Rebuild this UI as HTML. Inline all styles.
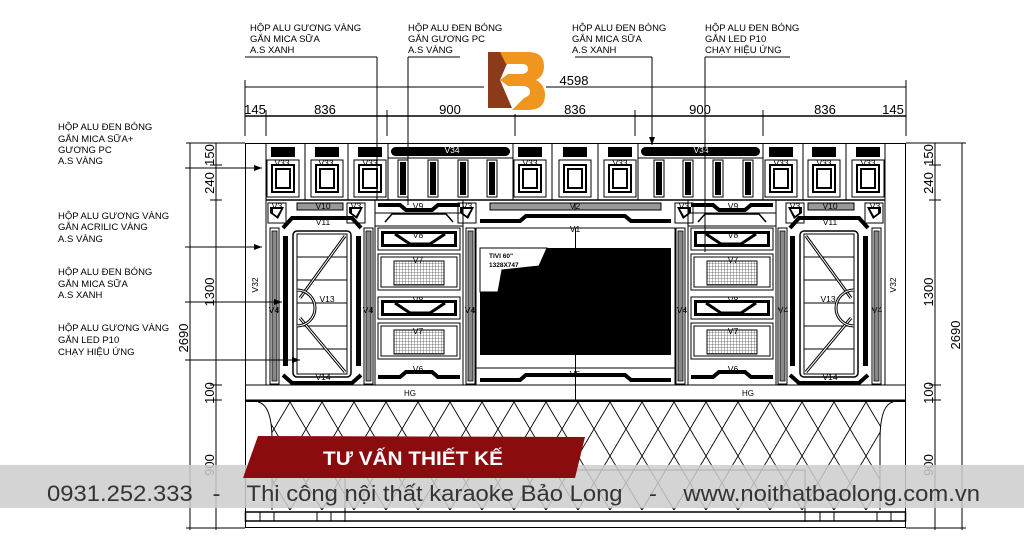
<!DOCTYPE html>
<html><head><meta charset="utf-8"><style>
html,body{margin:0;padding:0;background:#fff}
svg{display:block}
text{font-family:"Liberation Sans",sans-serif}
</style></head><body>
<svg width="1024" height="543" viewBox="0 0 1024 543" xmlns="http://www.w3.org/2000/svg">
<defs>
<pattern id="grid" width="3" height="3" patternUnits="userSpaceOnUse"><rect width="3" height="3" fill="#fff"/><path d="M0 0H3M0 0V3" stroke="#555" stroke-width="0.8"/></pattern>
<pattern id="dia" width="32" height="54" patternUnits="userSpaceOnUse" x="258" y="402"><path d="M0 0L32 54M32 0L0 54" stroke="#000" stroke-width="0.9" fill="none"/></pattern>
<g id="v33">
<rect x="-12" y="147" width="24" height="10" fill="#000"/>
<rect x="-16" y="160" width="32" height="37" fill="none" stroke="#000" stroke-width="1"/>
<rect x="-11" y="165" width="22" height="27" fill="none" stroke="#000" stroke-width="2"/>
<rect x="-7" y="169" width="14" height="19" fill="none" stroke="#000" stroke-width="2"/>
</g>
<g id="v35"><rect x="-5" y="160" width="10" height="37" fill="#fff" stroke="#000"/><rect x="-3" y="162" width="6" height="33" fill="#000"/></g>
<g id="pil"><rect x="0" y="228" width="9" height="156" fill="#fff" stroke="#000"/><rect x="2" y="231" width="5" height="150" fill="#888" stroke="#000" stroke-width="0.8"/></g>
<g id="v3"><rect x="-9" y="203" width="18" height="20" fill="none" stroke="#000"/><polygon points="-7,207 7,207 1,219 -7,213" fill="#000"/><polygon points="-4,209 4,209 0,216 -4,213" fill="#fff"/></g>
<g id="v8"><rect x="378" y="0" width="82" height="22" fill="none" stroke="#000"/><rect x="381" y="3" width="76" height="16" fill="#000"/><rect x="384" y="6" width="70" height="10" fill="#fff"/><polyline points="395,6 410,16 430,16 445,6" fill="none" stroke="#000" stroke-width="3"/></g>
<g id="v7"><rect x="378" y="0" width="82" height="36" fill="none" stroke="#000"/><rect x="381" y="3" width="76" height="30" fill="none" stroke="#000"/><rect x="394" y="7" width="50" height="24" fill="url(#grid)" stroke="#000"/></g>
<g id="half">
<line x1="266" y1="143" x2="266" y2="385" stroke="#000"/>
<use href="#v33" x="283"/><use href="#v33" x="327"/><use href="#v33" x="370"/>
<line x1="305" y1="143" x2="305" y2="200" stroke="#000"/><line x1="348" y1="143" x2="348" y2="200" stroke="#000"/><line x1="388" y1="143" x2="388" y2="200" stroke="#000"/><line x1="513" y1="143" x2="513" y2="200" stroke="#000"/>
<rect x="391" y="147" width="119" height="9" rx="4.5" fill="#000"/>
<line x1="388" y1="158" x2="513" y2="158" stroke="#000"/>
<use href="#v35" x="403"/><use href="#v35" x="433"/><use href="#v35" x="463"/><use href="#v35" x="492"/>
<line x1="266" y1="200" x2="575.5" y2="200" stroke="#000" stroke-width="1.5"/>
<use href="#v3" x="277"/><use href="#v3" x="356"/><use href="#v3" x="467"/>
<rect x="297" y="203" width="46" height="7" fill="#999" stroke="#000"/>
<rect x="490" y="203" width="86" height="7" fill="#999" stroke="#000"/>
<polyline points="378,205 400,205 406,210 432,210 438,205 460,205" fill="none" stroke="#000" stroke-width="4"/>
<line x1="375" y1="213" x2="463" y2="213" stroke="#000"/><line x1="375" y1="226" x2="463" y2="226" stroke="#000"/>
<line x1="375" y1="200" x2="375" y2="385" stroke="#000"/><line x1="463" y1="200" x2="463" y2="385" stroke="#000"/>
<use href="#pil" x="270"/><use href="#pil" x="364"/><use href="#pil" x="466"/>
<polyline points="283,228 292,218 352,218 361,228" fill="none" stroke="#000" stroke-width="4"/>
<polyline points="283,375 292,383 352,383 361,375" fill="none" stroke="#000" stroke-width="4"/>
<rect x="283" y="236" width="5" height="130" fill="#000"/><rect x="356" y="236" width="5" height="130" fill="#000"/>
<rect x="293" y="231" width="58" height="146" rx="4" fill="none" stroke="#000" stroke-width="1.5"/>
<rect x="297" y="234" width="50" height="140" fill="none" stroke="#000"/>
<path d="M297 257H347M297 280H347M297 303H347M297 326H347M297 349H347" stroke="#000"/>
<path d="M300 298L345 236M300 318L345 372" stroke="#000" stroke-width="3"/><path d="M300 298L345 236M300 318L345 372" stroke="#fff" stroke-width="1"/>
<path d="M297 290A18 18 0 0 1 297 326" fill="none" stroke="#000" stroke-width="3"/><path d="M297 290A18 18 0 0 1 297 326" fill="none" stroke="#fff" stroke-width="1"/>
<polyline points="385,222 392,214 446,214 453,222" fill="none" stroke="#000" stroke-width="1.5"/>
<use href="#v8" y="228"/><use href="#v7" y="254"/><use href="#v8" y="297"/><use href="#v7" y="323"/>
<polyline points="378,377 400,377 406,372 432,372 438,377 460,377" fill="none" stroke="#000" stroke-width="4"/>
<polyline points="480,221 520,221 526,216 575.5,216" fill="none" stroke="#000" stroke-width="4"/>
<polyline points="480,380 520,380 526,375 575.5,375" fill="none" stroke="#000" stroke-width="4"/>
<line x1="476" y1="228" x2="575.5" y2="228" stroke="#000"/>
<line x1="476" y1="368" x2="575.5" y2="368" stroke="#000"/>
<line x1="476" y1="228" x2="476" y2="385" stroke="#000"/>
</g>
</defs>

<rect x="245.5" y="143.5" width="660" height="384" fill="#fff" stroke="#000"/>
<use href="#half"/>
<use href="#half" transform="translate(1151,0) scale(-1,1)"/>
<use href="#v33" x="530"/><use href="#v33" x="575"/><use href="#v33" x="620"/>
<line x1="552" y1="143" x2="552" y2="200" stroke="#000"/><line x1="598" y1="143" x2="598" y2="200" stroke="#000"/>
<rect x="480" y="248" width="191" height="107" fill="#000"/>
<polygon points="480,248 547,248 539,266 502,270 498,292 480,292" fill="#fff" stroke="#000"/>
<text x="489" y="258" font-size="6.5" font-weight="bold">TIVI 60"</text>
<text x="489" y="267" font-size="6.5" font-weight="bold">1328X747</text>
<line x1="575.5" y1="228" x2="575.5" y2="248" stroke="#000"/><line x1="575.5" y1="355" x2="575.5" y2="385" stroke="#000"/>
<g font-size="8.5" fill="#000" text-anchor="middle">
<text x="282" y="166">V33</text><text x="326" y="166">V33</text><text x="370" y="166">V33</text><text x="530" y="166">V33</text><text x="620" y="166">V33</text><text x="781" y="166">V33</text><text x="824" y="166">V33</text><text x="868" y="166">V33</text>
<text x="452" y="153" fill="#fff">V34</text><text x="701" y="153" fill="#fff">V34</text>
<text x="277" y="209">V3</text><text x="356" y="209">V3</text><text x="467" y="209">V3</text><text x="684" y="209">V3</text><text x="795" y="209">V3</text><text x="875" y="209">V3</text>
<text x="323" y="209">V10</text><text x="830" y="209">V10</text><text x="418" y="209">V9</text><text x="733" y="209">V9</text><text x="575" y="209">V2</text>
<text x="323" y="225">V11</text><text x="830" y="225">V11</text><text x="575" y="232">V1</text>
<text x="418" y="238">V8</text><text x="733" y="238">V8</text><text x="418" y="263">V7</text><text x="733" y="263">V7</text>
<text x="418" y="303">V8</text><text x="733" y="303">V8</text><text x="418" y="334">V7</text><text x="733" y="334">V7</text>
<text x="418" y="372">V6</text><text x="733" y="372">V6</text><text x="575" y="377">V5</text>
<text x="323" y="380">V14</text><text x="830" y="380">V14</text>
<text x="327" y="302">V13</text><text x="828" y="302">V13</text>
<text x="274" y="313">V4</text><text x="368" y="313">V4</text><text x="470" y="313">V4</text><text x="682" y="313">V4</text><text x="783" y="313">V4</text><text x="877" y="313">V4</text>
<text transform="translate(258,285) rotate(-90)">V32</text><text transform="translate(896,285) rotate(-90)">V32</text>
</g>
<rect x="245.5" y="385" width="660" height="15" fill="#fff" stroke="#000"/>
<line x1="575.5" y1="385" x2="575.5" y2="400" stroke="#000"/>
<text x="410" y="396" font-size="8" text-anchor="middle">HG</text><text x="748" y="396" font-size="8" text-anchor="middle">HG</text>
<line x1="245" y1="401" x2="906" y2="401" stroke="#000" stroke-width="2"/>
<path d="M258 402Q272 405 272 440V510H880V440Q880 405 893 402Z" fill="url(#dia)"/>
<path d="M258 402Q272 405 272 440V510M893 402Q880 405 880 440V510" fill="none" stroke="#000"/>
<line x1="345" y1="470" x2="345" y2="522" stroke="#000"/><line x1="805" y1="470" x2="805" y2="522" stroke="#000"/>
<line x1="345" y1="470" x2="805" y2="470" stroke="#000"/>
<rect x="245.5" y="512" width="660" height="9" fill="none" stroke="#000" stroke-width="1.5"/>
<rect x="260" y="512" width="14" height="9" fill="none" stroke="#000"/><rect x="317" y="512" width="14" height="9" fill="none" stroke="#000"/>
<rect x="820" y="512" width="14" height="9" fill="none" stroke="#000"/><rect x="877" y="512" width="14" height="9" fill="none" stroke="#000"/>
<g stroke="#000" fill="none">
<line x1="245" y1="87" x2="906" y2="87"/>
<line x1="245" y1="116" x2="906" y2="116" stroke-width="1.5"/>
<path d="M245 80V136M266 110V136M387 110V136M515 110V136M635 110V136M763 110V136M906 80V136"/>
<path d="M377 57H245M377 57V200M408 57H460M408 57V205M652 57H575M652 57V145M705 57H790M705 57V252"/>
</g>
<g font-size="13" text-anchor="middle"><text x="255" y="114">145</text><text x="325" y="114">836</text><text x="450" y="114">900</text><text x="575" y="114">836</text><text x="700" y="114">900</text><text x="825" y="114">836</text><text x="893" y="114">145</text><text x="574" y="85">4598</text></g>
<g font-size="9.5">
<text x="250" y="31">HỘP ALU GƯƠNG VÀNG</text><text x="250" y="42">GẮN MICA SỮA</text><text x="250" y="53">A.S XANH</text>
<text x="408" y="31">HỘP ALU ĐEN BÓNG</text><text x="408" y="42">GẮN GƯƠNG PC</text><text x="408" y="53">A.S VÀNG</text>
<text x="572" y="31">HỘP ALU ĐEN BÓNG</text><text x="572" y="42">GẮN MICA SỮA</text><text x="572" y="53">A.S XANH</text>
<text x="705" y="31">HỘP ALU ĐEN BÓNG</text><text x="705" y="42">GẮN LED P10</text><text x="705" y="53">CHẠY HIỆU ỨNG</text>
<text x="58" y="130">HỘP ALU ĐEN BÓNG</text><text x="58" y="142">GẮN MICA SỮA+</text><text x="58" y="153">GƯƠNG PC</text><text x="58" y="164">A.S VÀNG</text>
<text x="58" y="219">HỘP ALU GƯƠNG VÀNG</text><text x="58" y="230">GẮN ACRILIC VÀNG</text><text x="58" y="242">A.S VÀNG</text>
<text x="58" y="275">HỘP ALU ĐEN BÓNG</text><text x="58" y="287">GẮN MICA SỮA</text><text x="58" y="298">A.S XANH</text>
<text x="58" y="331">HỘP ALU GƯƠNG VÀNG</text><text x="58" y="343">GẮN LED P10</text><text x="58" y="355">CHẠY HIỆU ỨNG</text>
</g>
<g stroke="#000" fill="none">
<path d="M185 168H262M185 247H262M185 302H282M185 360H300"/>
</g>
<g fill="#000"><polygon points="262,168 254,165 254,171"/><polygon points="262,247 254,244 254,250"/><polygon points="282,302 274,299 274,305"/><polygon points="300,360 292,357 292,363"/><polygon points="652,145 649,137 655,137"/></g>
<g stroke="#000" fill="none">
<line x1="216" y1="143" x2="216" y2="530"/><line x1="190" y1="143" x2="190" y2="530"/>
<line x1="935" y1="143" x2="935" y2="530"/><line x1="962" y1="143" x2="962" y2="530"/>
<path d="M186 143H245M210 165H222M210 200H222M210 385H222M210 400H222M186 528H245"/>
<path d="M906 143H966M929 165H941M929 200H941M929 385H941M929 400H941M906 528H966"/>
</g>
<g font-size="13" text-anchor="middle">
<text transform="translate(214,155) rotate(-90)">150</text><text transform="translate(214,183) rotate(-90)">240</text><text transform="translate(214,292) rotate(-90)">1300</text><text transform="translate(214,393) rotate(-90)">100</text><text transform="translate(214,465) rotate(-90)">900</text><text transform="translate(188,338) rotate(-90)">2690</text>
<text transform="translate(933,155) rotate(-90)">150</text><text transform="translate(933,183) rotate(-90)">240</text><text transform="translate(933,292) rotate(-90)">1300</text><text transform="translate(933,393) rotate(-90)">100</text><text transform="translate(933,465) rotate(-90)">900</text><text transform="translate(960,335) rotate(-90)">2690</text>
</g>
<rect x="484" y="48" width="62" height="66" fill="#fff"/>
<polygon points="488,52 512,52 500,80 512,108 488,108" fill="#8b3a1a"/>
<path d="M500 52H528Q544 52 544 66Q544 76 536 80Q545 85 545 95Q545 110 528 110H512L524 98Q530 96 530 92Q530 87 524 86H508L500 80L508 74H522Q528 73 528 69Q528 64 522 64H506Z" fill="#f0961e"/>
<rect x="0" y="465" width="1024" height="43" fill="rgba(205,205,205,0.85)"/>
<polygon points="258,436 585,437 575,478 243,478" fill="#8a0c0e"/>
<text x="413" y="465" font-size="19" font-weight="bold" fill="#fff" text-anchor="middle" textLength="180" lengthAdjust="spacingAndGlyphs">TƯ VẤN THIẾT KẾ</text>
<text x="47" y="501" font-size="22" fill="#333" textLength="933" lengthAdjust="spacingAndGlyphs" xml:space="preserve">0931.252.333   -    Thi công nội thất karaoke Bảo Long    -    www.noithatbaolong.com.vn</text>
</svg>
</body></html>
